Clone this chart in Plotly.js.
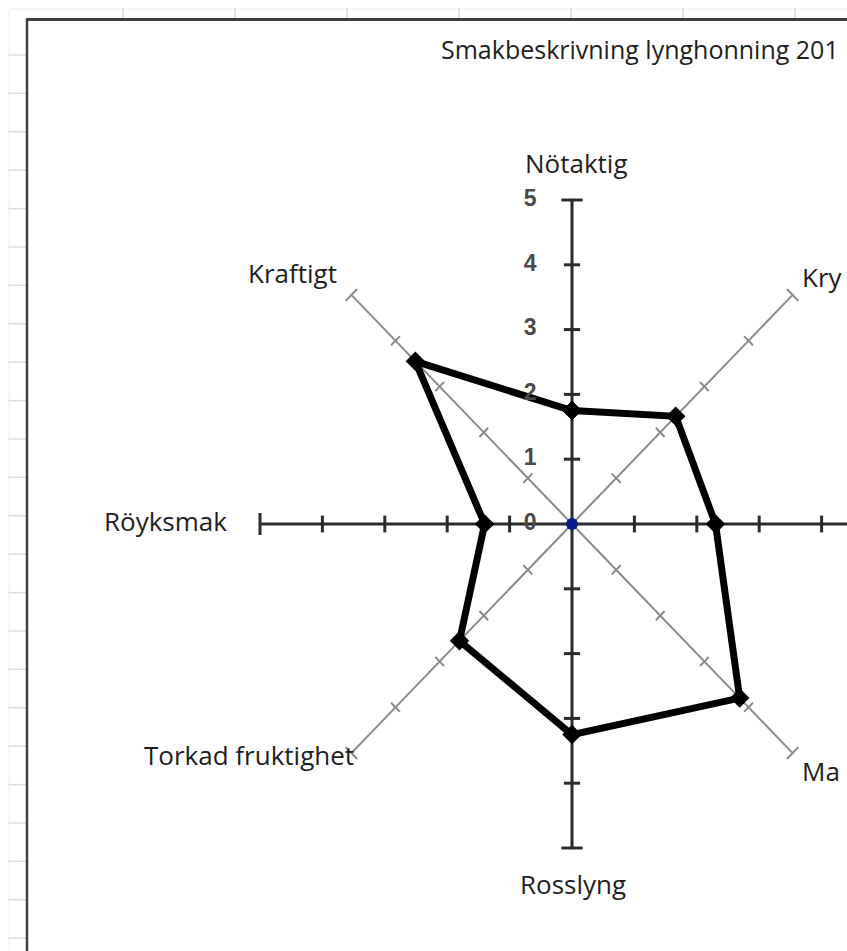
<!DOCTYPE html>
<html>
<head>
<meta charset="utf-8">
<script src="https://cdn.plot.ly/plotly-3.0.1.min.js"></script>
<style>
  html, body { margin: 0; padding: 0; background: #fff; overflow: hidden; }
  #chart { width: 847px; height: 951px; }
</style>
</head>
<body>
<div id="chart"></div>
<script>
// spokes clockwise from the top
const categories = ['Nötaktig', 'Kry', '', 'Ma', 'Rosslyng', 'Torkad fruktighet', 'Röyksmak', 'Kraftigt']
const scores = [1.75, 2.35, 2.3, 3.8, 3.25, 2.55, 1.4, 3.55]
const scaleTicks = [0, 1, 2, 3, 4, 5]
const title = 'Smakbeskrivning lynghonning 201'

const W = 847
const H = 951
const maxScore = scaleTicks[scaleTicks.length - 1]
const spokeAngle = (i) => (i * 2 * Math.PI) / categories.length
const polar = (r, a) => [r * Math.sin(a), r * Math.cos(a)]

// pixel -> paper helpers for the spreadsheet frame around the chart
const px = (x) => x / W
const py = (y) => 1 - y / H

// spokes: even indexes are the black main cross, odd ones the grey diagonals
const spokeTrace = (main) => {
  const x = []
  const y = []
  categories.forEach((c, i) => {
    if ((i % 2 === 0) !== main) return
    const a = spokeAngle(i)
    const end = polar(maxScore, a)
    x.push(0, end[0], null)
    y.push(0, end[1], null)
    scaleTicks.slice(1).forEach((t) => {
      const half = t === maxScore ? (main ? 0.17 : 0.13) : main ? 0.13 : 0.1
      const p = polar(t, a)
      const q = polar(half, a + Math.PI / 2)
      x.push(p[0] - q[0], p[0] + q[0], null)
      y.push(p[1] - q[1], p[1] + q[1], null)
    })
  })
  return {
    x,
    y,
    type: 'scatter',
    mode: 'lines',
    line: main ? {color: '#2b2b2b', width: 3} : {color: '#8a8a8a', width: 2},
    hoverinfo: 'skip',
  }
}

const ring = scores.concat(scores[0])
const ringIdx = ring.map((v, i) => i % categories.length)
const scoreTrace = {
  x: ring.map((v, i) => polar(v, spokeAngle(ringIdx[i]))[0]),
  y: ring.map((v, i) => polar(v, spokeAngle(ringIdx[i]))[1]),
  type: 'scatter',
  mode: 'lines+markers',
  line: {color: '#000', width: 7},
  marker: {symbol: 'diamond', size: 15, color: '#000'},
  hoverinfo: 'skip',
}

const centerTrace = {
  x: [0],
  y: [0],
  type: 'scatter',
  mode: 'markers',
  marker: {size: 12, color: '#0a1a8a'},
  hoverinfo: 'skip',
}

const tickLabelTrace = {
  x: scaleTicks.map(() => -0.67),
  y: scaleTicks,
  text: scaleTicks.map(String),
  type: 'scatter',
  mode: 'text',
  textfont: {family: 'Liberation Sans, Arial', size: 23, color: '#4a4a4a', weight: 'bold'},
  hoverinfo: 'skip',
}

// where each spoke caption sits, in data units
const labelSpots = [
  {x: 0.08, y: 5.57, xanchor: 'center'},
  {x: 3.65, y: 3.81, xanchor: 'left'},
  {x: 5.6, y: 0.05, xanchor: 'left'},
  {x: 3.65, y: -3.81, xanchor: 'left'},
  {x: 0.02, y: -5.56, xanchor: 'center'},
  {x: -3.46, y: -3.56, xanchor: 'right'},
  {x: -5.49, y: 0.05, xanchor: 'right'},
  {x: -3.73, y: 3.87, xanchor: 'right'},
]

const labelFont = {family: 'Open Sans', size: 26, color: '#1e1e1e'}

const annotations = categories
  .map((c, i) => ({
    text: c,
    x: labelSpots[i].x,
    y: labelSpots[i].y,
    xref: 'x',
    yref: 'y',
    xanchor: labelSpots[i].xanchor,
    yanchor: 'middle',
    showarrow: false,
    font: labelFont,
  }))
  .filter((a) => a.text)

annotations.push({
  text: title,
  x: px(439),
  y: py(49),
  xref: 'paper',
  yref: 'paper',
  xanchor: 'left',
  yanchor: 'middle',
  showarrow: false,
  font: {...labelFont, size: 25},
})

const shapes = []
const faint = {color: '#dcdcdc', width: 1.5}
for (let y = 55; y < H; y += 38.4) {
  shapes.push({type: 'line', xref: 'paper', yref: 'paper', x0: px(8), x1: px(27), y0: py(y), y1: py(y), line: faint})
}
for (let x = 123; x < W; x += 112) {
  shapes.push({type: 'line', xref: 'paper', yref: 'paper', x0: px(x), x1: px(x), y0: py(8), y1: py(19), line: faint})
}
shapes.push({type: 'line', xref: 'paper', yref: 'paper', x0: px(9), x1: px(9), y0: py(10), y1: py(H), line: {color: '#ececec', width: 1}})
shapes.push({type: 'line', xref: 'paper', yref: 'paper', x0: px(9), x1: px(W), y0: py(9), y1: py(9), line: {color: '#ececec', width: 1}})
// chart frame
shapes.push({type: 'line', xref: 'paper', yref: 'paper', x0: px(27), x1: px(27), y0: py(19), y1: py(H), line: {color: '#404040', width: 2.5}})
shapes.push({type: 'line', xref: 'paper', yref: 'paper', x0: px(26), x1: px(W), y0: py(19.5), y1: py(19.5), line: {color: '#404040', width: 3}})

const layout = {
  width: W,
  height: H,
  margin: {l: 0, r: 0, t: 0, b: 0, pad: 0},
  paper_bgcolor: '#fff',
  plot_bgcolor: 'rgba(0,0,0,0)',
  showlegend: false,
  xaxis: {range: [-572 / 62.4, (W - 572) / 62.4], visible: false, fixedrange: true},
  yaxis: {range: [(524 - H) / 64.8, 524 / 64.8], visible: false, fixedrange: true},
  annotations,
  shapes,
}

Plotly.newPlot(
  'chart',
  [spokeTrace(false), spokeTrace(true), scoreTrace, centerTrace, tickLabelTrace],
  layout,
  {staticPlot: true}
)
</script>
</body>
</html>
